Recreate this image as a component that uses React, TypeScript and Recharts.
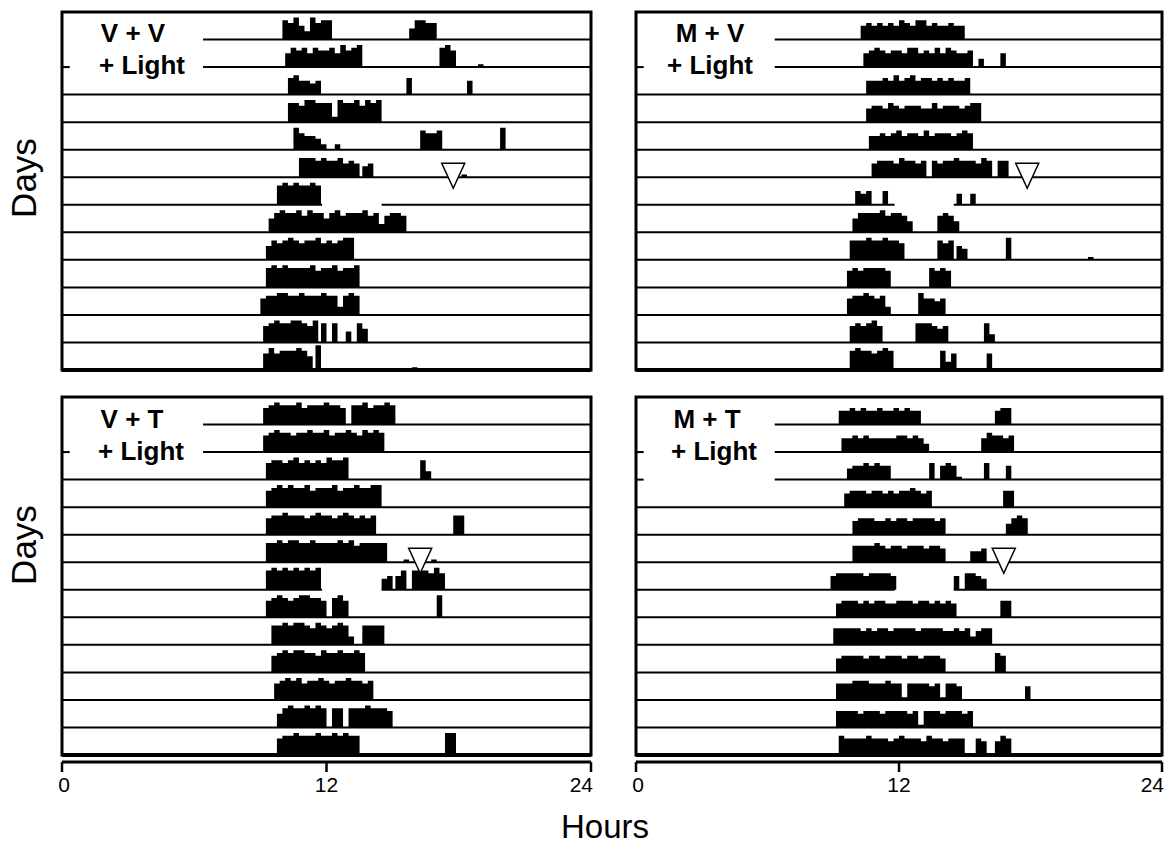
import React from "react";
import {
  Area,
  ComposedChart,
  ReferenceArea,
  ReferenceDot,
  ReferenceLine,
  XAxis,
  YAxis,
} from "recharts";

// each bout: [start hour, activity heights per 15-min bin, tenths of a row]
type Bout = [number, string];

const hourTicks = [0, 12, 24];
const panelTitles = ["V + V", "M + V", "V + T", "M + T"];
const lightLabel = "+ Light";
const markerHours = [17.75, 17.85, 16.25, 16.78];
const labelRowCounts = [2, 2, 2, 3];
const labelLineStarts = [6.4, 6.33, 6.4, 6.33];
const recordingGap = [11.8, 14.5];

const vvRows: Bout[][] = [
  [[10.0, "768538677"], [15.75, "47766"]],
  [[10.125, "57675766758678"], [17.125, "786"], [18.875, "1"]],
  [[10.25, "675545"], [15.625, "6"], [18.375, "5"]],
  [[10.25, "77688777287786878"]],
  [[10.5, "865542"], [12.375, "2"], [16.25, "7667"], [19.875, "8"]],
  [[10.75, "77767667565"], [13.625, "45"], [18.125, "1"]],
  [[9.75, "78787787"]],
  [[9.375, "5787786877578677786736776"]],
  [[9.25, "5767876778676788"]],
  [[9.25, "78787777867786778"]],
  [[9.0, "677887787778773787"]],
  [[9.125, "6787788768"], [11.75, "707"], [12.875, "4075"]],
  [[9.125, "686777875"], [11.5, "9"], [15.875, "1"]],
];

const mvRows: Bout[][] = [
  [[10.25, "5656565765775655655"]],
  [[10.375, "56765665775657576556"], [15.625, "3"], [16.625, "5"]],
  [[10.5, "5556575675665656556"]],
  [[10.5, "566576566655756665677"]],
  [[10.625, "5565675665756665676"]],
  [[10.75, "5666576656065667666576066"]],
  [[10.0, "545"], [11.25, "5"], [14.625, "4"], [15.25, "4"]],
  [[9.875, "57777867764"], [13.75, "6764"]],
  [[9.75, "7778778776"], [13.75, "767"], [14.625, "54"], [16.875, "8"], [20.625, "1"]],
  [[9.625, "67677776"], [13.375, "7676"]],
  [[9.625, "67787673"], [12.875, "86656"]],
  [[9.75, "676786"], [12.75, "777656"], [15.875, "73"]],
  [[9.75, "78776787"], [13.875, "736"], [16.0, "6"]],
];

const vtRows: Bout[][] = [
  [[9.125, "678777867778776077867787"]],
  [[9.125, "6787767787786778768787"]],
  [[9.25, "677678676768778"], [16.25, "73"]],
  [[9.25, "678787786777867787788"]],
  [[9.25, "67787776787767876767"], [17.75, "77"]],
  [[9.25, "7787887787777878677777"], [15.5, "1"], [16.75, "1"]],
  [[9.25, "7878787878"], [14.5, "45"], [15.125, "57"], [15.875, "777686"]],
  [[9.25, "67876788776"], [12.25, "786"], [17.0, "8"]],
  [[9.5, "778788768767873"], [13.625, "7777"]],
  [[9.5, "67878877687787787"]],
  [[9.625, "678786778767787767"]],
  [[9.75, "578778787077077787776"]],
  [[9.75, "677877787787877"], [17.375, "88"]],
];

const mtRows: Bout[][] = [
  [[9.25, "556565565565655"], [16.375, "566"]],
  [[9.375, "5565655555665653"], [15.75, "576656"]],
  [[9.625, "45565655"], [13.375, "605651"], [15.875, "6"], [16.875, "5"]],
  [[9.5, "5666566565667656"], [16.75, "66"]],
  [[9.875, "56665565665666656"], [16.875, "4676"]],
  [[9.875, "66667656656665665"], [15.25, "445"]],
  [[8.875, "566666566665"], [14.5, "5"], [15.0, "6654"]],
  [[9.125, "5666565665566656656565"], [16.625, "66"]],
  [[9.0, "66666565665666656666556563"], [15.5, "566"]],
  [[9.125, "56666566566656656665"], [16.375, "76"]],
  [[9.125, "66677766676616666561665"], [17.75, "5"]],
  [[9.125, "6666566656666561666566656"]],
  [[9.25, "76666766656766657665666"], [15.5, "65"], [16.375, "576"]],
];

const panelRows = [vvRows, mvRows, vtRows, mtRows];

const FONT = "'Liberation Sans', Arial, Helvetica, sans-serif";
const STEP = 0.125;

// layout of the four panels (pixels)
const layout = [
  { left: 58, top: 8, width: 537, height: 366, axis: false, tx: 133, sx: 142, ty: 42, sy: 74 },
  { left: 632, top: 8, width: 533, height: 366, axis: false, tx: 710, sx: 710, ty: 42, sy: 74 },
  { left: 58, top: 393, width: 537, height: 409, axis: true, tx: 132, sx: 141, ty: 428, sy: 460 },
  { left: 632, top: 393, width: 533, height: 409, axis: true, tx: 707, sx: 714, ty: 428, sy: 460 },
];

function buildTable(rows: Bout[][]) {
  const n = Math.round(24 / STEP);
  const heights = rows.map(() => new Array(n + 1).fill(0));
  rows.forEach((bouts, r) =>
    bouts.forEach(([start, digits]) => {
      const i0 = Math.round(start / STEP);
      digits.split("").forEach((c, k) => {
        const v = Number(c) / 10;
        heights[r][i0 + 2 * k] = v;
        heights[r][i0 + 2 * k + 1] = v;
      });
    })
  );
  const table: any[] = [];
  for (let i = 0; i <= n; i++) {
    const d: any = { x: i * STEP };
    rows.forEach((_, r) => {
      const base = rows.length - 1 - r;
      d["r" + r] = [base, base + heights[r][i]];
    });
    table.push(d);
  }
  return table;
}

function HourTick(props: any) {
  const { x, y, payload } = props;
  const v = payload.value;
  return (
    <text
      x={v === 24 ? x + 2 : v === 0 ? x + 2 : x}
      y={y}
      dy="0.71em"
      textAnchor={v === 24 ? "end" : "middle"}
      fill="#000"
      style={{ fontSize: "21px", fontFamily: FONT }}
    >
      {v}
    </text>
  );
}

function Triangle(props: any) {
  const { cx, cy } = props;
  return (
    <path
      d={`M${cx - 11.5},${cy - 14} L${cx + 11.5},${cy - 14} L${cx},${cy + 11} Z`}
      fill="#fff"
      stroke="#000"
      strokeWidth={1.5}
    />
  );
}

function Panel({ index }: { index: number }) {
  const cfg = layout[index];
  const rows = panelRows[index];
  const table = buildTable(rows);
  const nRows = rows.length;
  const yMin = cfg.axis ? -0.254 : 0;
  const labelRows = labelRowCounts[index];
  const lineStart = labelLineStarts[index];

  const segments: { a: number; b: number; y: number; w: number }[] = [];
  for (let r = 0; r < nRows - 1; r++) {
    const y = nRows - 1 - r;
    const a = r < labelRows ? lineStart : 0;
    if (r === 6) {
      segments.push({ a, b: recordingGap[0], y, w: 2 });
      segments.push({ a: recordingGap[1], b: 24, y, w: 2 });
    } else {
      segments.push({ a, b: 24, y, w: 2 });
    }
    if (r > 0 && r < labelRows) segments.push({ a: 0, b: 0.35, y, w: 2 });
  }

  return (
    <div style={{ position: "absolute", left: cfg.left, top: cfg.top }}>
      <ComposedChart
        width={cfg.width}
        height={cfg.height}
        data={table}
        margin={{ top: 4, right: cfg.left > 600 ? 3 : 4, left: 4, bottom: cfg.axis ? 0 : 4 }}
      >
        <XAxis
          dataKey="x"
          type="number"
          domain={[0, 24]}
          ticks={hourTicks}
          interval={0}
          hide={!cfg.axis}
          height={cfg.axis ? 40 : 0}
          tickSize={10}
          tickMargin={5}
          axisLine={{ stroke: "#000", strokeWidth: 3 }}
          tickLine={{ stroke: "#000", strokeWidth: 2.5 }}
          tick={(p: any) => <HourTick {...p} />}
          allowDataOverflow
        />
        <YAxis type="number" domain={[yMin, nRows]} hide allowDataOverflow />
        {rows.map((_, r) => (
          <Area
            key={r}
            dataKey={"r" + r}
            type="stepAfter"
            stroke="none"
            fill="#000"
            fillOpacity={1}
            dot={false}
            activeDot={false}
            isAnimationActive={false}
          />
        ))}
        {segments.map((s, i) => (
          <ReferenceLine
            key={i}
            segment={[
              { x: s.a, y: s.y },
              { x: s.b, y: s.y },
            ]}
            stroke="#000"
            strokeWidth={s.w}
          />
        ))}
        <ReferenceArea
          x1={0}
          x2={24}
          y1={0}
          y2={nRows}
          fill="none"
          stroke="#000"
          strokeWidth={3}
          ifOverflow="visible"
        />
        <ReferenceLine y={0} stroke="#000" strokeWidth={4} />
        <ReferenceDot
          x={markerHours[index]}
          y={nRows - 6}
          r={0}
          ifOverflow="visible"
          shape={(p: any) => <Triangle {...p} />}
        />
      </ComposedChart>
    </div>
  );
}

export default function App() {
  return (
    <div
      style={{
        position: "absolute",
        left: 0,
        top: 0,
        width: 1165,
        height: 846,
        overflow: "hidden",
        background: "#fff",
      }}
    >
      {layout.map((_, i) => (
        <Panel key={i} index={i} />
      ))}
      <svg
        width={1165}
        height={846}
        style={{ position: "absolute", left: 0, top: 0, pointerEvents: "none" }}
      >
        {layout.map((cfg, i) => (
          <g key={i} fontFamily={FONT} fontWeight="bold" fontSize={26} fill="#000">
            <text x={cfg.tx} y={cfg.ty} textAnchor="middle">
              {panelTitles[i]}
            </text>
            <text x={cfg.sx} y={cfg.sy} textAnchor="middle">
              {lightLabel}
            </text>
          </g>
        ))}
        <text
          transform="translate(36,178) rotate(-90)"
          textAnchor="middle"
          fontSize={35}
          fontFamily={FONT}
          fill="#000"
        >
          Days
        </text>
        <text
          transform="translate(36,545) rotate(-90)"
          textAnchor="middle"
          fontSize={35}
          fontFamily={FONT}
          fill="#000"
        >
          Days
        </text>
        <text x={605} y={838} textAnchor="middle" fontSize={33} fontFamily={FONT} fill="#000">
          Hours
        </text>
      </svg>
    </div>
  );
}
